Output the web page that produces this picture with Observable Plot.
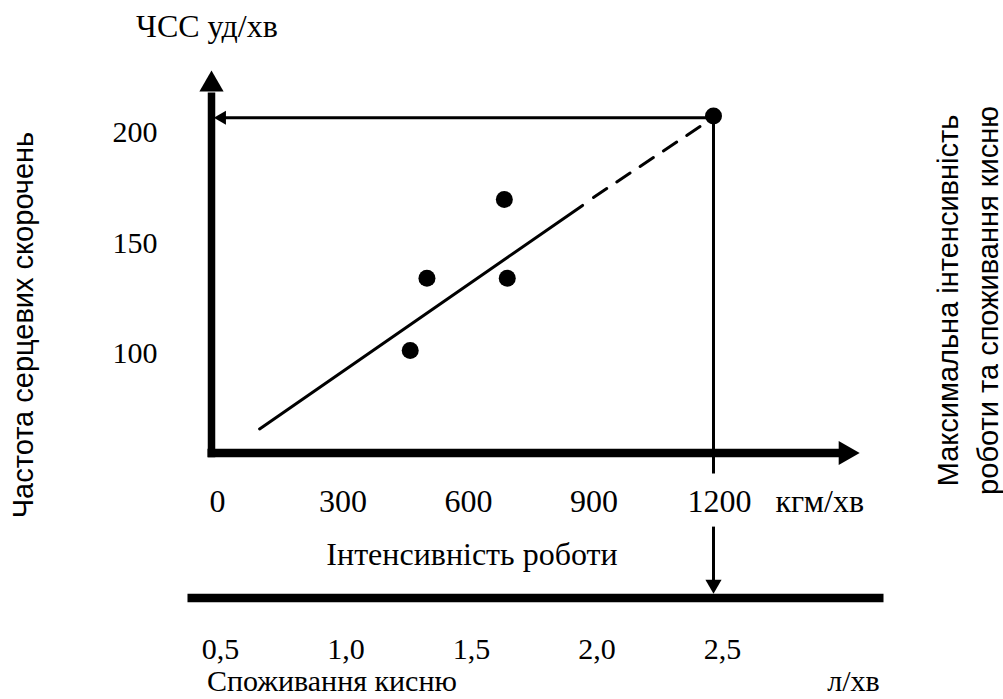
<!DOCTYPE html>
<html>
<head>
<meta charset="utf-8">
<script src="https://cdn.jsdelivr.net/npm/d3@7"></script>
<script src="https://cdn.jsdelivr.net/npm/@observablehq/plot@0.6"></script>
<style>
  html, body { margin: 0; padding: 0; background: #fff; overflow: hidden; }
</style>
</head>
<body>
<div id="chart"></div>
<script>
// ---- data (work load in кгм/хв, heart rate in уд/хв) ----
const workTicks = [0, 300, 600, 900, 1200];
const workTickLabels = ["0", "300", "600", "900", "1200"];
const oxygenTickLabels = ["0,5", "1,0", "1,5", "2,0", "2,5"];
const hrTicks = [100, 150, 200];
const hrTickLabels = ["100", "150", "200"];

const testWork = [475, 515, 700, 707];
const testHeartRate = [101.4, 134.1, 169.7, 134.1];

const maxWork = [1200];
const maxHeartRate = [207.5];

const trendSolidWork = [115, 887];
const trendSolidHR = [65.9, 167];
const trendDashWork = [913, 1168];
const trendDashHR = [170.6, 202.7];

// axis frame (in data units)
const yAxisLine = [{x1: 0, y1: 53.1, x2: 0, y2: 218.1}];
const xAxisLine = [{x1: -9.6, y1: 55, x2: 1503.6, y2: 55}];
const oxygenLine = [{x1: -57.4, y1: -10.6, x2: 1606.4, y2: -10.6}];
const guideLines = [
  {x1: 1200, y1: 206.7, x2: 24.9, y2: 206.7},
  {x1: 1200, y1: 207.5, x2: 1200, y2: 45.7},
  {x1: 1200, y1: 21.7, x2: 1200, y2: -4.5}
];
const bigHeads = [{x: 0, y: 221.7, a: 0}, {x: 1516, y: 55, a: 90}];
const leftHead = [{x: 24.9, y: 206.7}];
const downHead = [{x: 1200, y: -4.5}];

// text labels
const bigLabelsStart = [
  {t: "кгм/хв", x: 1348.2, y: 28.2}
];
const bigLabelsMiddle = [
  {t: "ЧСС уд/хв", x: -10.8, y: 243.1},
  {t: "Інтенсивність роботи", x: 622.7, y: 4.55}
];
const smallLabelsStart = [
  {t: "Споживання кисню", x: -11, y: -52.9},
  {t: "л/хв", x: 1471.8, y: -52.9}
];
const leftTitle = [{t: "Частота серцевих скорочень", x: -425.5, y: 112.9}];
const rightTitle = [{t: "Максимальна інтенсивність\nроботи та споживання кисню", x: 1879, y: 124}];

const tests = testWork.map((w, i) => ({w, hr: testHeartRate[i]}));
const maxPoint = maxWork.map((w, i) => ({w, hr: maxHeartRate[i]}));
const trendSolid = trendSolidWork.map((w, i) => ({w, hr: trendSolidHR[i]}));
const trendDash = trendDashWork.map((w, i) => ({w, hr: trendDashHR[i]}));

const serif = "'Liberation Serif', 'Times New Roman', serif";
const sans = "'Liberation Sans', Arial, sans-serif";

const chart = Plot.plot({
  width: 1003,
  height: 699,
  marginLeft: 211,
  marginRight: 290,
  marginTop: 132,
  marginBottom: 246.5,
  x: {domain: [0, 1200]},
  y: {domain: [55, 200]},
  style: {fontFamily: serif, fontSize: "30px", color: "black", background: "white"},
  marks: [
    Plot.axisY({ticks: hrTicks, tickFormat: (d, i) => hrTickLabels[i], tickSize: 0, tickPadding: 54, label: null, fontSize: 30}),
    Plot.axisX({ticks: workTicks, tickFormat: (d, i) => workTickLabels[i], tickSize: 0, tickPadding: 36.5, dx: 6, label: null, fontSize: 32}),
    Plot.axisX({ticks: workTicks, tickFormat: (d, i) => oxygenTickLabels[i], tickSize: 0, tickPadding: 185, dx: 9, label: null, fontSize: 30}),
    Plot.link(yAxisLine, {x1: "x1", y1: "y1", x2: "x2", y2: "y2", stroke: "black", strokeWidth: 7.5}),
    Plot.link(xAxisLine, {x1: "x1", y1: "y1", x2: "x2", y2: "y2", stroke: "black", strokeWidth: 8.3}),
    Plot.link(oxygenLine, {x1: "x1", y1: "y1", x2: "x2", y2: "y2", stroke: "black", strokeWidth: 8.3}),
    Plot.link(guideLines, {x1: "x1", y1: "y1", x2: "x2", y2: "y2", stroke: "black", strokeWidth: 3}),
    Plot.dot(bigHeads, {x: "x", y: "y", rotate: "a", r: 9, symbol: "triangle", fill: "black", stroke: "none"}),
    Plot.dot(leftHead, {x: "x", y: "y", rotate: -90, r: 5.2, symbol: "triangle", fill: "black", stroke: "none"}),
    Plot.dot(downHead, {x: "x", y: "y", rotate: 180, r: 6, symbol: "triangle", fill: "black", stroke: "none"}),
    Plot.line(trendSolid, {x: "w", y: "hr", stroke: "black", strokeWidth: 3}),
    Plot.line(trendDash, {x: "w", y: "hr", stroke: "black", strokeWidth: 3, strokeDasharray: "16,12"}),
    Plot.dot(tests, {x: "w", y: "hr", r: 8.5, fill: "black", stroke: "none"}),
    Plot.dot(maxPoint, {x: "w", y: "hr", r: 8.5, fill: "black", stroke: "none"}),
    Plot.text(bigLabelsStart, {x: "x", y: "y", text: "t", textAnchor: "start", lineAnchor: "bottom", fontSize: 32, fontFamily: serif}),
    Plot.text(bigLabelsMiddle, {x: "x", y: "y", text: "t", textAnchor: "middle", lineAnchor: "bottom", fontSize: 32, fontFamily: serif}),
    Plot.text(smallLabelsStart, {x: "x", y: "y", text: "t", textAnchor: "start", lineAnchor: "bottom", fontSize: 30, fontFamily: serif}),
    Plot.text(leftTitle, {x: "x", y: "y", text: "t", rotate: -90, textAnchor: "middle", lineAnchor: "bottom", fontSize: 29, fontFamily: sans}),
    Plot.text(rightTitle, {x: "x", y: "y", text: "t", rotate: -90, textAnchor: "middle", lineAnchor: "bottom", lineHeight: 1.38, fontSize: 29, fontFamily: sans})
  ]
});
document.getElementById("chart").appendChild(chart);
</script>
</body>
</html>
